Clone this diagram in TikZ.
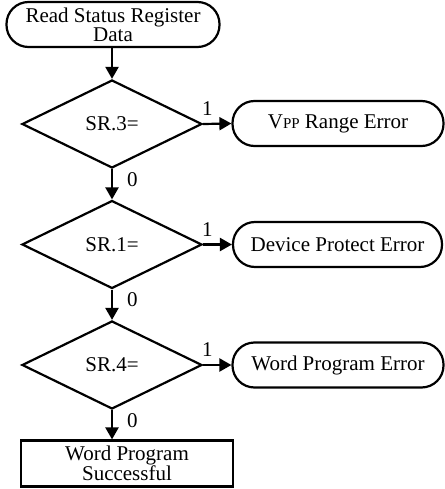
\documentclass[tikz,border=0pt]{standalone}
\usepackage{fontspec}
\setmainfont{Liberation Serif}
\usetikzlibrary{shapes.geometric,arrows.meta}

\begin{document}
\begin{tikzpicture}[x=1pt,y=-1pt,line width=2.2pt,
  font=\fontsize{21}{19}\selectfont,
  termstyle/.style={draw,rounded corners=22pt,minimum height=45pt,inner sep=0,align=center},
  decstyle/.style={draw,diamond,minimum width=180pt,minimum height=88pt,inner sep=0},
  boxstyle/.style={draw,rectangle,minimum width=212pt,minimum height=46pt,inner sep=0,align=center},
  arrstyle/.style={-{Triangle[length=12pt,width=13pt]}},
  onestyle/.style={pos=0,anchor=south west,inner sep=1pt,xshift=-3pt,yshift=6pt},
  zerostyle/.style={pos=0,anchor=north west,inner sep=1pt,xshift=13pt,yshift=-1pt}]
\useasboundingbox (0,0) rectangle (444,489);
\node[termstyle,minimum width=213pt] (read) at (113,24.5) {Read Status Register\\Data};
\node[decstyle] (sr3) at (112,124) {SR.3=};
\node[decstyle] (sr1) at (112,244.5) {SR.1=};
\node[decstyle] (sr4) at (112,365) {SR.4=};
\node[termstyle,minimum width=211pt] (vpp) at (338,123.5) {V{\fontsize{15}{15}\selectfont PP} Range Error};
\node[termstyle,minimum width=209pt] (prot) at (337.5,244.5) {Device Protect Error};
\node[termstyle,minimum width=211pt] (prog) at (338,365) {Word Program Error};
\node[boxstyle] (ok) at (127,463.5) {Word Program\\Successful};
% main path
\draw[arrstyle] (read.south -| sr3.north) -- (sr3.north);
\draw[arrstyle] (sr3.south) -- node[zerostyle]{0} (sr1.north);
\draw[arrstyle] (sr1.south) -- node[zerostyle]{0} (sr4.north);
\draw[arrstyle] (sr4.south) -- node[zerostyle]{0} (sr4.south |- ok.north);
% error exits
\draw[arrstyle] (sr3.east) -- node[onestyle]{1} (vpp.west);
\draw[arrstyle] (sr1.east) -- node[onestyle]{1} (prot.west);
\draw[arrstyle] (sr4.east) -- node[onestyle]{1} (prog.west);
\end{tikzpicture}
\end{document}
